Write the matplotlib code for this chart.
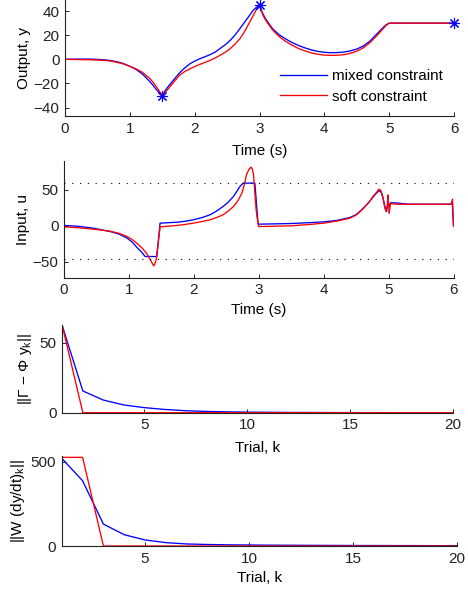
import matplotlib
matplotlib.use("Agg")
import matplotlib.pyplot as plt

plt.rcParams['font.family'] = ['Liberation Sans', 'DejaVu Sans']
plt.rcParams['mathtext.default'] = 'regular'
plt.rcParams['font.size'] = 11

# ---------- data ----------
t_y = [0, 0.2, 0.4, 0.6, 0.7, 0.8, 0.9, 1.0, 1.1, 1.2, 1.3, 1.35, 1.4, 1.45, 1.5,
       1.55, 1.6, 1.7, 1.77, 1.85, 1.93, 2.0, 2.08, 2.16, 2.24, 2.32, 2.39, 2.47, 2.55,
       2.62, 2.7, 2.78, 2.85, 2.9, 2.95, 3.0, 3.05, 3.1, 3.2, 3.3, 3.4, 3.5, 3.6, 3.7,
       3.8, 3.9, 4.0, 4.1, 4.2, 4.3, 4.4, 4.5, 4.6, 4.7, 4.8, 4.9, 4.95, 5.0, 6.0]
y_mixed = [0, 0.2, 0.2, -0.4, -1.0, -2.0, -3.5, -5.8, -8.5, -12.5, -18, -21, -24.5, -27.5, -30,
           -25.5, -22, -15.5, -11, -7, -3.6, -1.5, 0.5, 2.2, 3.9, 6.1, 8.9, 12, 15.8,
           20, 25.6, 31.5, 36.7, 40.5, 43, 45, 38, 33, 25.5, 20.5, 17, 14, 11.5, 9.5,
           7.8, 6.6, 5.8, 5.5, 5.6, 6, 7, 8.5, 11, 15, 20.5, 26, 28.5, 30, 30]
y_soft = [0, -0.2, -0.4, -0.8, -1.4, -2.4, -3.8, -5.8, -8, -11, -15.5, -18.5, -22, -26, -30,
          -27, -24, -17.5, -13, -10, -7.8, -6, -4.2, -2.5, -0.8, 1.2, 3.3, 5.8, 8.9,
          12.5, 17.2, 24, 31, 36, 41, 45, 37, 32, 24.5, 19, 15, 11.8, 9, 7,
          5.3, 4.2, 3.5, 3.3, 3.4, 3.8, 5, 6.7, 9.5, 13.6, 19, 25, 28, 30, 30]
t_stars = [1.5, 3.0, 6.0]
y_stars = [-30, 45, 30]

t_u_mixed = [0, 0.2, 0.45, 0.71, 0.85, 0.97, 1.05, 1.12, 1.19, 1.25, 1.43, 1.48, 1.6,
             1.74, 1.87, 1.99, 2.12, 2.25, 2.35, 2.45, 2.53, 2.61, 2.66, 2.71, 2.76, 2.94,
             2.99, 3.5, 3.8, 4.0, 4.2, 4.4, 4.5, 4.6, 4.7, 4.77, 4.82, 4.86, 4.89, 4.92,
             4.95, 4.97, 4.99, 5.01, 5.03, 5.1, 5.2, 5.3, 5.96, 5.98, 6.0]
u_mixed = [0.5, -0.5, -3.2, -7.9, -11.5, -17, -22.5, -29.6, -36, -42.6, -42.6, 3.7, 4.3,
           5, 6.4, 8.3, 11.3, 15.3, 20.5, 26.8, 33, 40.7, 47.5, 54.6, 59.3, 59.3,
           2.3, 3.2, 4.5, 5.5, 7.5, 11.5, 15.5, 23.5, 33, 41, 46, 49, 46, 36,
           24, 20, 33, 28, 32, 32, 31, 30, 30, 34, 0]
t_u_soft = [0, 0.2, 0.45, 0.71, 0.85, 0.97, 1.05, 1.12, 1.2, 1.27, 1.33, 1.36, 1.38, 1.4,
            1.42, 1.45, 1.48, 1.6, 1.74, 1.87, 1.99, 2.12, 2.25, 2.35, 2.45, 2.53, 2.61,
            2.68, 2.74, 2.78, 2.81, 2.85, 2.88, 2.9, 2.92, 2.94, 2.96, 2.98, 3.0, 3.5,
            3.8, 4.0, 4.2, 4.4, 4.5, 4.6, 4.7, 4.77, 4.82, 4.85, 4.88, 4.91, 4.94, 4.96,
            4.98, 4.99, 5.0, 5.01, 5.02, 5.03, 5.1, 5.97, 5.985, 6.0]
u_soft = [-1.4, -2.5, -4.6, -7.4, -10.5, -14.8, -19, -24, -30.5, -38, -47, -52, -55.5, -53,
          -47, -25, -1.4, -0.5, 0.5, 2, 3.7, 5.8, 8.3, 11.5, 15.3, 20.5, 26.8,
          35, 45.4, 58, 70.8, 78.5, 81.5, 79, 70.8, 45, 22, 8, -1, 0,
          2, 3.7, 6.5, 10.5, 15, 23, 33, 42, 47, 51, 49, 41, 26, 20,
          28, 43, 30, 17.6, 25, 31, 30, 30, 37, 0]
u_limits = [60, -46]

trials = list(range(1, 21))
err_mixed = [62, 15.5, 9, 5.5, 3.6, 2.3, 1.4, 0.9, 0.6, 0.4, 0.3, 0.2, 0.15, 0.1, 0.08,
             0.06, 0.05, 0.04, 0.03, 0.02]
err_soft = [62, 0, 0, 0, 0, 0, 0, 0, 0, 0, 0, 0, 0, 0, 0, 0, 0, 0, 0, 0]
der_mixed = [520, 387, 130, 67, 36, 20, 12, 9, 7, 6, 5, 4.5, 4, 3.5, 3, 3, 2.5, 2.5, 2, 2]
der_soft = [526, 526, 0, 0, 0, 0, 0, 0, 0, 0, 0, 0, 0, 0, 0, 0, 0, 0, 0, 0]

# ---------- figure ----------
W, H = 468, 593
fig = plt.figure(figsize=(W / 100, H / 100), dpi=100)

def px_axes(l, r, top, bot):
    return fig.add_axes([l / W, (H - bot) / H, (r - l) / W, (bot - top) / H])

def style(ax):
    for s in ['top', 'right']:
        ax.spines[s].set_visible(False)
    for s in ['left', 'bottom']:
        ax.spines[s].set_linewidth(0.8)
        ax.spines[s].set_color('#222222')
    ax.tick_params(direction='in', length=3, width=0.7, labelsize=11, pad=4,
                   colors='#222222', labelcolor='#222222')

lw = 0.95
blue = '#0000ff'
red = '#ff0000'

# Panel 1
ax1 = px_axes(65, 454, 0, 116)
ax1.plot(t_y, y_mixed, color=blue, lw=lw, label='mixed constraint')
ax1.plot(t_y, y_soft, color=red, lw=lw, label='soft constraint')
ax1.plot(t_stars, y_stars, linestyle='none', marker=(8, 2, 0), color=blue,
         markersize=8, markeredgewidth=0.8, clip_on=False)
ax1.set_xlim(0, 6)
ax1.set_ylim(-47, 49.2)
ax1.set_yticks([-40, -20, 0, 20, 40])
ax1.set_yticklabels(['\u221240', '\u221220', '0', '20', '40'])
ax1.set_xticks(range(0, 7))
ax1.set_xlabel('Time (s)', labelpad=6)
ax1.set_ylabel('Output, y', labelpad=2)
style(ax1)
ax1.legend(loc='upper left', bbox_to_anchor=((280 - 65) / 389, (116 - 69) / 116),
           frameon=False, handlelength=3.1, handletextpad=0.33, labelspacing=0.44,
           borderpad=0, borderaxespad=0, fontsize=11)

# Panel 2
ax2 = px_axes(64, 453.5, 161, 277.7)
ax2.plot(t_u_mixed, u_mixed, color=blue, lw=lw)
ax2.plot(t_u_soft, u_soft, color=red, lw=lw)
for lim in u_limits:
    ax2.axhline(lim, color='black', lw=0.8, linestyle=(0, (1, 6)))
ax2.set_xlim(0, 6)
ax2.set_ylim(-72, 90)
ax2.set_yticks([-50, 0, 50])
ax2.set_yticklabels(['\u221250', '0', '50'])
ax2.set_xticks(range(0, 7))
ax2.set_xlabel('Time (s)', labelpad=4)
ax2.set_ylabel('Input, u', labelpad=2)
style(ax2)

# Panel 3
ax3 = px_axes(62.3, 452.7, 325, 412.7)
ax3.plot(trials, err_mixed, color=blue, lw=lw)
ax3.plot(trials, err_soft, color=red, lw=lw)
ax3.set_xlim(1, 20)
ax3.set_ylim(0, 62.6)
ax3.set_yticks([0, 50])
ax3.set_xticks([5, 10, 15, 20])
ax3.set_xlabel('Trial, k', labelpad=6)
ax3.set_ylabel('||\u0393 \u2212 \u03a6 y$_k$||', labelpad=4)
style(ax3)

# Panel 4
ax4 = px_axes(61.8, 457, 456, 546)
ax4.plot(trials, der_mixed, color=blue, lw=lw)
ax4.plot(trials, der_soft, color=red, lw=lw)
ax4.set_xlim(1, 20)
ax4.set_ylim(0, 534)
ax4.set_yticks([0, 500])
ax4.set_xticks([5, 10, 15, 20])
ax4.set_xlabel('Trial, k', labelpad=4)
ax4.set_ylabel('||W (dy/dt)$_k$||', labelpad=3)
style(ax4)

fig.savefig('out.png', dpi=100)
